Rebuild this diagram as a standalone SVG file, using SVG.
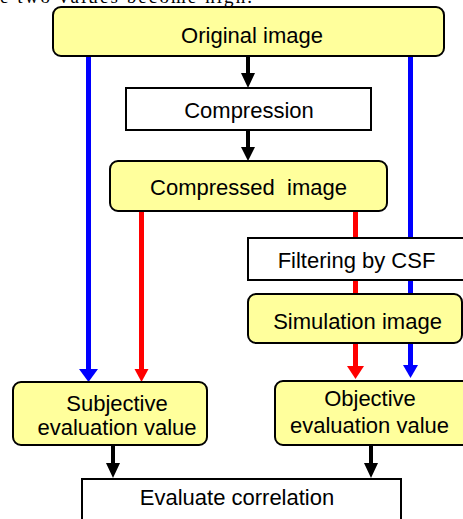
<svg xmlns="http://www.w3.org/2000/svg" width="463" height="519" viewBox="0 0 463 519">
<style>
.y{fill:#FFFF9C;stroke:#000;stroke-width:2}
.w{fill:#fff;stroke:#000;stroke-width:2}
text{font-family:"Liberation Sans",Arial,sans-serif;font-size:22px;fill:#000;text-anchor:middle}
.blue{stroke:#0000FF;stroke-width:5;fill:none}
.red{stroke:#FF0000;stroke-width:5;fill:none}
.blk{stroke:#000;stroke-width:4;fill:none}
</style>
<text x="0" y="3" style="font-family:'Liberation Serif','Times New Roman',serif;font-size:19px;text-anchor:start" textLength="252">e two values become high.</text>
<g id="connectors">
<line class="blue" x1="88.5" y1="56" x2="88.5" y2="370"/>
<polygon fill="#0000FF" points="79,369 98,369 88.5,382"/>
<line class="red" x1="141.5" y1="211" x2="141.5" y2="370"/>
<polygon fill="#FF0000" points="134.5,369 148.5,369 141.5,382"/>
<line class="red" x1="355.5" y1="211" x2="355.5" y2="367"/>
<polygon fill="#FF0000" points="347,366 364,366 355.5,379"/>
<line class="blue" x1="410.5" y1="56" x2="410.5" y2="366"/>
<polygon fill="#0000FF" points="403,365 418,365 410.5,378"/>
<line class="blk" x1="248" y1="56" x2="248" y2="75"/>
<polygon fill="#000" points="241,73 255,73 248,88"/>
<line class="blk" x1="248" y1="130" x2="248" y2="149"/>
<polygon fill="#000" points="241,147 255,147 248,161"/>
<line class="blk" x1="113" y1="445" x2="113" y2="465"/>
<polygon fill="#000" points="106,463 120,463 113,478"/>
<line class="blk" x1="371" y1="445" x2="371" y2="465"/>
<polygon fill="#000" points="364,463 378,463 371,478"/>
</g>
<g id="original"><rect class="y" x="53" y="7" width="391" height="49" rx="8"/><text x="252" y="43">Original image</text></g>
<g id="compression"><rect class="w" x="126" y="88" width="245" height="42"/><text x="249" y="118">Compression</text></g>
<g id="compressed"><rect class="y" x="110" y="161" width="277" height="50" rx="8"/><text x="248.5" y="195" xml:space="preserve">Compressed  image</text></g>
<g id="filtering"><rect class="w" x="248" y="238" width="230" height="42"/><text x="356.5" y="268">Filtering by CSF</text></g>
<g id="simulation"><rect class="y" x="248" y="294" width="214" height="49" rx="8"/><text x="357.5" y="329">Simulation image</text></g>
<g id="subjective"><rect class="y" x="13" y="382" width="194" height="63" rx="8"/><text x="117" y="411">Subjective</text><text x="117" y="435">evaluation value</text></g>
<g id="objective"><rect class="y" x="275" y="381" width="200" height="64" rx="8"/><text x="370" y="406">Objective</text><text x="369.5" y="433">evaluation value</text></g>
<g id="correlation"><rect class="w" x="82" y="479" width="319" height="60"/><text x="237" y="505">Evaluate correlation</text></g>
</svg>
